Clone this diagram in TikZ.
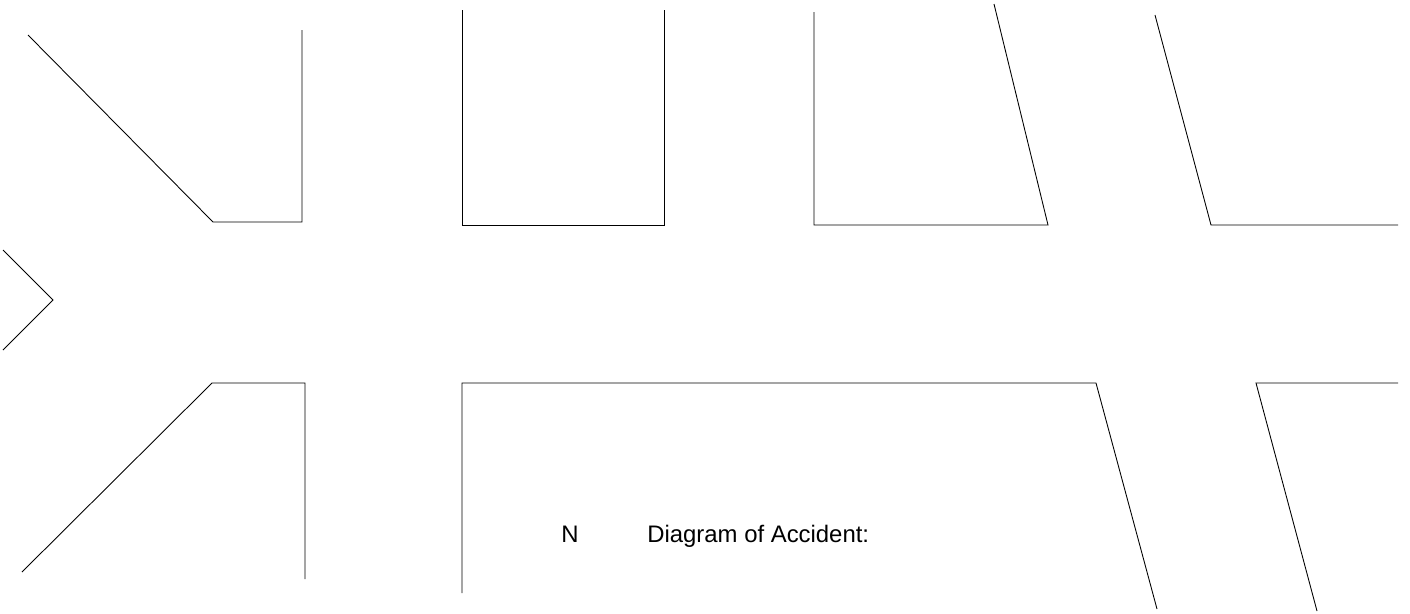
\documentclass[tikz,border=0pt]{standalone}
\usepackage{fontspec}
\setmainfont{Liberation Sans}
\begin{document}
\begin{tikzpicture}[x=0.02cm, y=-0.02cm,
  curb/.style={draw=black, line width=0.5pt, line join=miter},
  label/.style={font=\fontsize{13.6}{16}\selectfont, inner sep=0pt, anchor=base west}
]
\useasboundingbox (0,0) rectangle (1410,613);

% Upper kerbs
\draw[curb] (28,35) -- (213,222) -- (302,222) -- (302,30);
\draw[curb] (462,10) -- (462,225) -- (664,225) -- (664,10);
\draw[curb] (814,12) -- (814,225) -- (1048,225) -- (994,4);
\draw[curb] (1155,15) -- (1211,225) -- (1398,225);

% Road end on the left
\draw[curb] (3,250) -- (53,300) -- (3,350);

% Lower kerbs
\draw[curb] (22,572) -- (212,383) -- (305,383) -- (305,579);
\draw[curb] (462,593) -- (462,383) -- (1096,383) -- (1157,609);
\draw[curb] (1398,383) -- (1256,383) -- (1317,611);

% Labels
\node[label] (north) at (561,542) {N};
\node[label] (title) at (647,542) {Diagram of Accident:};
\end{tikzpicture}
\end{document}
